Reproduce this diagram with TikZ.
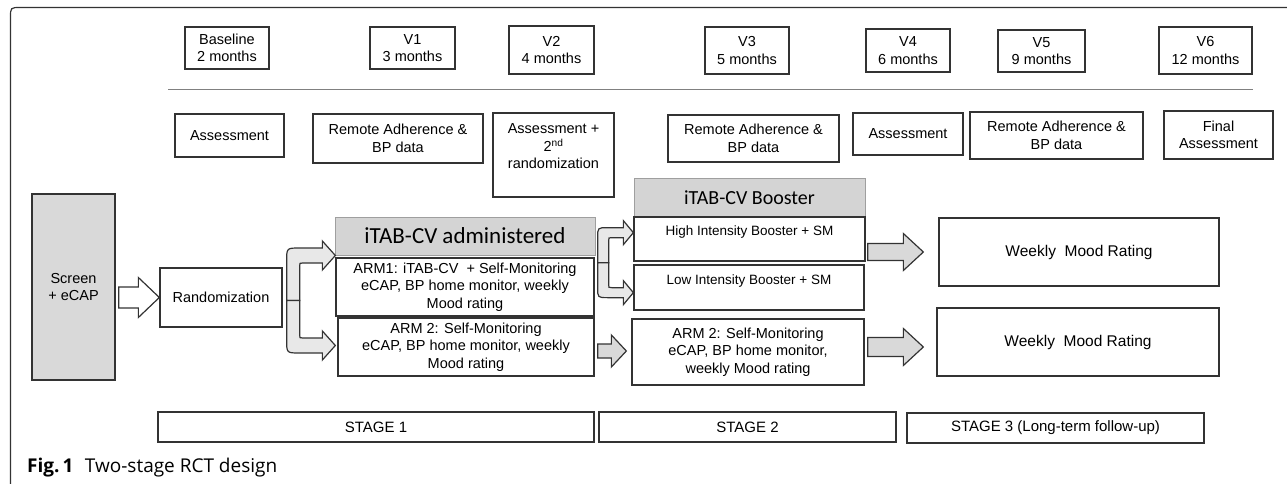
\documentclass[tikz,border=0pt]{standalone}
\usepackage{fontspec}
\newfontfamily\arialfont{Liberation Sans}
\newfontfamily\califont{Carlito}
\newfontfamily\capfont{Open Sans}
\usetikzlibrary{calc}
\usepackage{xcolor}
\definecolor{headgray}{rgb}{0.83,0.83,0.83}
\definecolor{screengray}{rgb}{0.85,0.85,0.85}
\definecolor{branchgray}{rgb}{0.91,0.91,0.91}
\definecolor{arrowgray}{rgb}{0.85,0.85,0.85}
\definecolor{boxline}{rgb}{0.2,0.2,0.2}

% block arrow: start, tip, shaft half height, head half height, head length, fill
\newcommand{\fatarrow}[6]{%
  \draw[arrowline, fill=#6] ($(#1)+(0,-#3)$) -- ($(#2)+(-#5,-#3)$) -- ($(#2)+(-#5,-#4)$)
    -- (#2) -- ($(#2)+(-#5,#4)$) -- ($(#2)+(-#5,#3)$) -- ($(#1)+(0,#3)$) -- cycle;}

\tikzset{
  box/.style={draw=boxline, line width=1.3pt, fill=white, inner sep=0pt, align=center,
    font=\arialfont\fontsize{14.5}{17.5}\selectfont},
  graybox/.style={box, fill=screengray},
  headbox/.style={box, fill=headgray, draw=gray!75, line width=1pt},
  boostbox/.style={box, font=\arialfont\fontsize{13.5}{16}\selectfont},
  moodbox/.style={box, font=\arialfont\fontsize{15.5}{18}\selectfont},
  stagebox/.style={box, font=\arialfont\fontsize{15}{18}\selectfont},
  arrowline/.style={draw=boxline, line width=1.2pt, line join=miter},
}

\begin{document}
\begin{tikzpicture}[x=1pt, y=-1pt]
\useasboundingbox (0,0) rectangle (1287,484);

%%%%%%%%%%%%%%%%%%%%%%%%%%%%%%%%%%%%%%%%%%%%%%%%%%%%%%%%%%%%%% Frame
\draw[boxline, line width=1.2pt] (1287,7.5) -- (20.5,7.5) .. controls (10.5,7.5) .. (10.5,17.5) -- (10.5,484);

%%%%%%%%%%%%%%%%%%%%%%%%%%%%%%%%%%%%%%%%%%%%%%%%%%%%%%%%%%%%%% Visits
\node[box, minimum width=84pt, minimum height=42pt] (base) at (227,48) {Baseline\\2 months};
\node[box, minimum width=85pt, minimum height=42pt] (vone) at (412.5,48) {V1\\3 months};
\node[box, minimum width=85pt, minimum height=48pt] (vtwo) at (551.5,50) {V2\\4 months};
\node[box, minimum width=84pt, minimum height=47pt] (vthree) at (747,50.5) {V3\\5 months};
\node[box, minimum width=84pt, minimum height=43pt] (vfour) at (908,50.5) {V4\\6 months};
\node[box, minimum width=87pt, minimum height=42pt] (vfive) at (1041.5,51) {V5\\9 months};
\node[box, minimum width=93pt, minimum height=47pt] (vsix) at (1205.5,50.5) {V6\\12 months};

\draw[gray, line width=1.5pt] (168,89.5) -- (1253,89.5);

%%%%%%%%%%%%%%%%%%%%%%%%%%%%%%%%%%%%%%%%%%%%%%%%%%%%%%%%%%%%%% Activities
\node[box, minimum width=109pt, minimum height=43pt] (actbase) at (229.5,135.5) {Assessment};
\node[box, minimum width=170pt, minimum height=49pt] (actone) at (398,138.5) {Remote Adherence \&\\BP data};
\node[box, minimum width=121pt, minimum height=84pt] (acttwo) at (553.5,155) {Assessment +\\2\textsuperscript{nd}\\randomization\\\mbox{}};
\node[box, minimum width=171pt, minimum height=47pt] (actthree) at (753.5,138.5) {Remote Adherence \&\\BP data};
\node[box, minimum width=110pt, minimum height=42pt] (actfour) at (908,134) {Assessment};
\node[box, minimum width=173pt, minimum height=47pt] (actfive) at (1056.5,135.5) {Remote Adherence \&\\BP data};
\node[box, minimum width=109pt, minimum height=48pt] (actsix) at (1218.5,135) {Final\\Assessment};

%%%%%%%%%%%%%%%%%%%%%%%%%%%%%%%%%%%%%%%%%%%%%%%%%%%%%%%%%%%%%% Stage 1
\node[graybox, minimum width=83pt, minimum height=186pt] (screen) at (73.5,287) {Screen\\+ eCAP};
\node[box, minimum width=122pt, minimum height=59pt] (rand) at (221,297.5) {Randomization};
\node[headbox, minimum width=260pt, minimum height=38pt, font=\califont\fontsize{23}{26}\selectfont] (admin) at (465,236) {iTAB-CV administered};
\node[box, minimum width=258pt, minimum height=58pt] (armone) at (465,287) {ARM1: iTAB-CV\ \ + Self-Monitoring\\eCAP, BP home monitor, weekly\\Mood rating};
\node[box, minimum width=256pt, minimum height=58pt] (armtwoa) at (466,347) {ARM 2: Self-Monitoring\\eCAP, BP home monitor, weekly\\Mood rating};

%%%%%%%%%%%%%%%%%%%%%%%%%%%%%%%%%%%%%%%%%%%%%%%%%%%%%%%%%%%%%% Stage 2
\node[headbox, minimum width=231pt, minimum height=39pt, font=\califont\fontsize{20}{24}\selectfont] (boost) at (749.5,197.5) {iTAB-CV Booster};
\node[boostbox, minimum width=231pt, minimum height=44pt] (high) at (749.5,239) {High Intensity Booster + SM\\\mbox{}};
\node[boostbox, minimum width=230pt, minimum height=45pt] (low) at (749,287.5) {Low Intensity Booster + SM\\\mbox{}};
\node[box, minimum width=232pt, minimum height=66pt] (armtwob) at (748,352) {ARM 2: Self-Monitoring\\eCAP, BP home monitor,\\weekly Mood rating};

%%%%%%%%%%%%%%%%%%%%%%%%%%%%%%%%%%%%%%%%%%%%%%%%%%%%%%%%%%%%%% Stage 3
\node[moodbox, minimum width=280pt, minimum height=68pt] (weeka) at (1079,252) {Weekly\ \ Mood Rating};
\node[moodbox, minimum width=282pt, minimum height=68pt] (weekb) at (1078,342) {Weekly\ \ Mood Rating};

%%%%%%%%%%%%%%%%%%%%%%%%%%%%%%%%%%%%%%%%%%%%%%%%%%%%%%%%%%%%%% Stages
\node[stagebox, minimum width=436pt, minimum height=30pt] (stageone) at (376,427) {STAGE 1};
\node[stagebox, minimum width=297pt, minimum height=30pt] (stagetwo) at (747.5,427) {STAGE 2};
\node[stagebox, minimum width=297pt, minimum height=30pt] (stagethree) at (1055.5,428) {STAGE 3 (Long-term follow-up)};

%%%%%%%%%%%%%%%%%%%%%%%%%%%%%%%%%%%%%%%%%%%%%%%%%%%%%%%%%%%%%% Arrows
\coordinate (aone) at ($(screen.east |- rand.west)+(3,0)$);
\fatarrow{aone}{rand.west}{10.5}{20}{21}{white}

\coordinate (atwo) at ($(armtwoa.east)+(3,4)$);
\coordinate (atwot) at ($(armtwob.west |- atwo)+(-5,0)$);
\fatarrow{atwo}{atwot}{7}{16}{15}{arrowgray}

\coordinate (athree) at ($(high.east |- weeka.west)+(2,0)$);
\coordinate (athreet) at ($(weeka.west)+(-15,0)$);
\fatarrow{athree}{athreet}{8.5}{18.5}{20}{arrowgray}

\coordinate (afour) at ($(armtwob.east |- weekb.west)+(3,5)$);
\coordinate (afourt) at ($(weekb.west)+(-13,5)$);
\fatarrow{afour}{afourt}{9.5}{18.5}{20}{arrowgray}

% first split
\coordinate (bone) at ($(rand.east)+(0,3)$);
\coordinate (tone) at (bone -| armone.west);
\foreach \s in {-1,1}
  \draw[arrowline, fill=branchgray]
    ($(bone)+(4,0)$) -- ($(bone)+(4,{\s*39.5})$)
    .. controls ($(bone)+(4,{\s*52.5})$) .. ($(bone)+(17,{\s*52.5})$)
    -- ($(tone)+(-13,{\s*52.5})$) -- ($(tone)+(-13,{\s*59.5})$)
    -- ($(tone)+(0,{\s*45})$)
    -- ($(tone)+(-13,{\s*30.5})$) -- ($(tone)+(-13,{\s*37.5})$)
    -- ($(bone)+(20,{\s*37.5})$) .. controls ($(bone)+(17,{\s*37.5})$) .. ($(bone)+(17,{\s*34.5})$)
    -- ($(bone)+(17,0)$) -- cycle;

% second split
\coordinate (btwo) at ($(armone.east |- high.south)+(0,1)$);
\coordinate (ttwo) at (btwo -| high.west);
\foreach \s in {-1,1}
  \draw[arrowline, fill=branchgray]
    ($(btwo)+(3,0)$) -- ($(btwo)+(3,{\s*25})$)
    .. controls ($(btwo)+(3,{\s*35})$) .. ($(btwo)+(13,{\s*35})$)
    -- ($(ttwo)+(-10,{\s*35})$) -- ($(ttwo)+(-10,{\s*42})$)
    -- ($(ttwo)+(0,{\s*30})$)
    -- ($(ttwo)+(-10,{\s*18})$) -- ($(ttwo)+(-10,{\s*25})$)
    -- ($(btwo)+(17,{\s*25})$) .. controls ($(btwo)+(14,{\s*25})$) .. ($(btwo)+(14,{\s*22})$)
    -- ($(btwo)+(14,0)$) -- cycle;

%%%%%%%%%%%%%%%%%%%%%%%%%%%%%%%%%%%%%%%%%%%%%%%%%%%%%%%%%%%%%% Caption
\node[anchor=base west, inner sep=0pt, font=\capfont\fontsize{19}{21}\selectfont] (caption) at (27,472) {\textbf{Fig.\,1}\hspace{0.6em}Two-stage RCT design};

\end{tikzpicture}
\end{document}
